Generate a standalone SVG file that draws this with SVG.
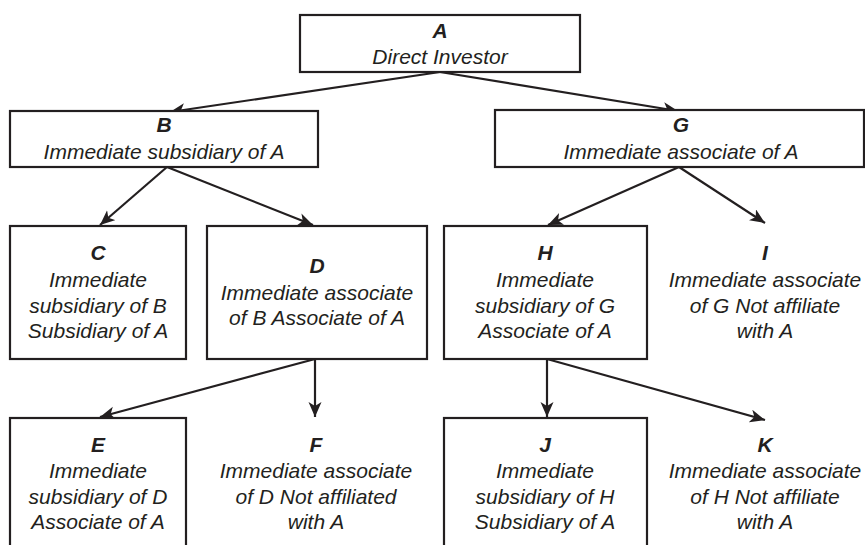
<svg xmlns="http://www.w3.org/2000/svg" width="865" height="545" viewBox="0 0 865 545">
<defs>
<marker id="arr" markerUnits="userSpaceOnUse" markerWidth="16" markerHeight="14" refX="15" refY="6.5" orient="auto">
<path d="M0,0 L15,6.5 L0,13 L4,6.5 z" fill="#231f20"/>
</marker>
<style>
.box{fill:#fff;stroke:#231f20;stroke-width:2.2}
.t{font-family:"Liberation Sans",Arial,sans-serif;font-size:21px;font-style:italic;fill:#231f20;text-anchor:middle}
.b{font-weight:bold}
.c line{stroke:#231f20;stroke-width:2.2;marker-end:url(#arr)}
</style>
</defs>
<rect width="865" height="545" fill="#fff"/>
<g class="c" id="connectors">
<line x1="440" y1="72" x2="170" y2="112"/>
<line x1="440" y1="72" x2="678" y2="111"/>
<line x1="167" y1="167" x2="100" y2="225"/>
<line x1="167" y1="167" x2="313" y2="225"/>
<line x1="679" y1="167" x2="548" y2="225"/>
<line x1="679" y1="167" x2="765" y2="223"/>
<line x1="315" y1="359" x2="100" y2="417"/>
<line x1="315" y1="359" x2="315" y2="417"/>
<line x1="547" y1="359" x2="547" y2="417"/>
<line x1="547" y1="359" x2="765" y2="420"/>
</g>
<g id="nA">
<rect class="box" x="300" y="15" width="280" height="57"/>
<text class="t b" x="440" y="38">A</text>
<text class="t" x="440" y="64">Direct Investor</text>
</g>
<g id="nB">
<rect class="box" x="10" y="111" width="308" height="56"/>
<text class="t b" x="164" y="132">B</text>
<text class="t" x="164" y="159">Immediate subsidiary of A</text>
</g>
<g id="nG">
<rect class="box" x="495" y="110" width="369" height="57"/>
<text class="t b" x="681" y="132">G</text>
<text class="t" x="681" y="159">Immediate associate of A</text>
</g>
<g id="nC">
<rect class="box" x="10" y="226" width="176" height="133"/>
<text class="t b" x="98" y="260">C</text>
<text class="t" x="98" y="287">Immediate</text>
<text class="t" x="98" y="313">subsidiary of B</text>
<text class="t" x="98" y="338">Subsidiary of A</text>
</g>
<g id="nD">
<rect class="box" x="207" y="226" width="220" height="133"/>
<text class="t b" x="317" y="273">D</text>
<text class="t" x="317" y="300">Immediate associate</text>
<text class="t" x="317" y="325">of B Associate of A</text>
</g>
<g id="nH">
<rect class="box" x="444" y="226" width="203" height="133"/>
<text class="t b" x="545" y="260">H</text>
<text class="t" x="545" y="287">Immediate</text>
<text class="t" x="545" y="313">subsidiary of G</text>
<text class="t" x="545" y="338">Associate of A</text>
</g>
<g id="nI">
<text class="t b" x="765" y="260">I</text>
<text class="t" x="765" y="287">Immediate associate</text>
<text class="t" x="765" y="313">of G Not affiliate</text>
<text class="t" x="765" y="338">with A</text>
</g>
<g id="nE">
<rect class="box" x="10" y="418" width="176" height="140"/>
<text class="t b" x="98" y="452">E</text>
<text class="t" x="98" y="478">Immediate</text>
<text class="t" x="98" y="504">subsidiary of D</text>
<text class="t" x="98" y="529">Associate of A</text>
</g>
<g id="nF">
<text class="t b" x="316" y="452">F</text>
<text class="t" x="316" y="478">Immediate associate</text>
<text class="t" x="316" y="504">of D Not affiliated</text>
<text class="t" x="316" y="529">with A</text>
</g>
<g id="nJ">
<rect class="box" x="444" y="418" width="203" height="140"/>
<text class="t b" x="545" y="452">J</text>
<text class="t" x="545" y="478">Immediate</text>
<text class="t" x="545" y="504">subsidiary of H</text>
<text class="t" x="545" y="529">Subsidiary of A</text>
</g>
<g id="nK">
<text class="t b" x="765" y="452">K</text>
<text class="t" x="765" y="478">Immediate associate</text>
<text class="t" x="765" y="504">of H Not affiliate</text>
<text class="t" x="765" y="529">with A</text>
</g>
</svg>
